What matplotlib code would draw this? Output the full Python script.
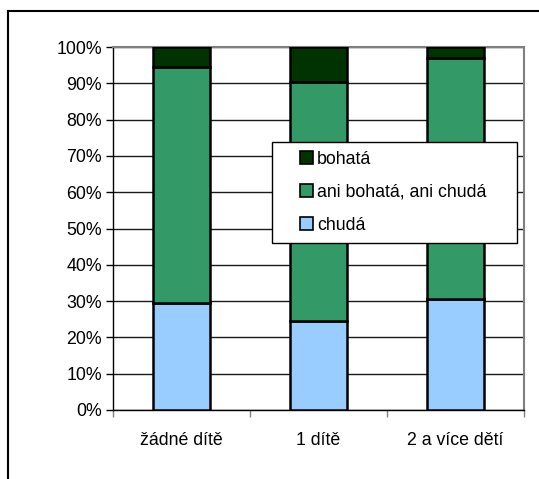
import matplotlib
matplotlib.use("Agg")
import matplotlib.pyplot as plt
from matplotlib.lines import Line2D
from matplotlib.patches import Rectangle
from matplotlib.legend_handler import HandlerPatch
import numpy as np

categories = ["žádné dítě", "1 dítě", "2 a více dětí"]
chuda = [29.6, 24.5, 30.5]
ani = [64.8, 65.9, 66.4]
bohata = [5.6, 9.6, 3.1]
series_names = ["chudá", "ani bohatá, ani chudá", "bohatá"]
colors = ["#99CCFF", "#339966", "#003300"]

plt.rcParams['font.family'] = ['Liberation Sans', 'DejaVu Sans']
FS = 12.8

W, H = 539, 479
fig = plt.figure(figsize=(W/100, H/100), dpi=100)
ax = fig.add_axes([113/W, (H-410)/H, (524-113)/W, (410-47)/H])

x = np.arange(len(categories))
bw = 0.41
bottom = np.zeros(3)
bars = []
for vals, name, c in zip([chuda, ani, bohata], series_names, colors):
    b = ax.bar(x, vals, bw, bottom=bottom, color=c, edgecolor="black", linewidth=1.8, label=name, zorder=3)
    bars.append(b)
    bottom += np.array(vals)

ax.set_xlim(-0.5, 2.5)
ax.set_ylim(0, 100)
ax.set_yticks(np.arange(0, 101, 10))
ax.set_yticklabels([f"{v}%" for v in range(0, 101, 10)], fontsize=FS)
ax.yaxis.grid(True, color="#1a1a1a", linewidth=1.0, zorder=0)
ax.set_xticks(x)
ax.set_xticklabels(categories, fontsize=FS)
ax.tick_params(axis="x", length=0, pad=16)
ax.set_xticks([-0.5, 0.5, 1.5, 2.5], minor=True)
ax.tick_params(axis="x", which="minor", length=5, color="#808080", width=1)
ax.tick_params(axis="y", length=5, color="#000000", width=1, pad=3)

for s in ["top", "right"]:
    ax.spines[s].set_color("#808080")
    ax.spines[s].set_linewidth(1.5)
ax.spines["left"].set_color("#000000")
ax.spines["bottom"].set_color("#000000")
ax.spines["left"].set_linewidth(1)
ax.spines["bottom"].set_linewidth(1)


def square_right(legend, orig_handle, xdescent, ydescent, width, height, fontsize):
    s = 0.75 * fontsize
    return Rectangle((width - xdescent - s, -ydescent + (height - s) / 2), s, s)


handles = [bars[2].patches[0], bars[1].patches[0], bars[0].patches[0]]
labels = [series_names[2], series_names[1], series_names[0]]
hmap = {Rectangle: HandlerPatch(patch_func=square_right)}
leg = ax.legend(handles, labels, loc="upper left", handler_map=hmap,
                bbox_to_anchor=((272-113)/(524-113), 1 - (237-47)/(410-47), (517-272)/(524-113), (237-142)/(410-47)),
                mode="expand", fontsize=FS, frameon=True, fancybox=False,
                edgecolor="black", framealpha=1, handlelength=1.8, handleheight=0.75,
                handletextpad=0.22, borderpad=0.5, labelspacing=0.9, borderaxespad=0)
leg.get_frame().set_linewidth(1)
leg.set_zorder(5)
for h in leg.legend_handles:
    h.set_linewidth(1.2)

# outer chart frame (cropped on right/bottom)
fig.add_artist(Line2D([8/W, 8/W], [0, (H-11)/H], color="#000000", linewidth=1.5))
fig.add_artist(Line2D([8/W, 1], [(H-11)/H, (H-11)/H], color="#000000", linewidth=1.5))

fig.savefig("out.png", dpi=100)
